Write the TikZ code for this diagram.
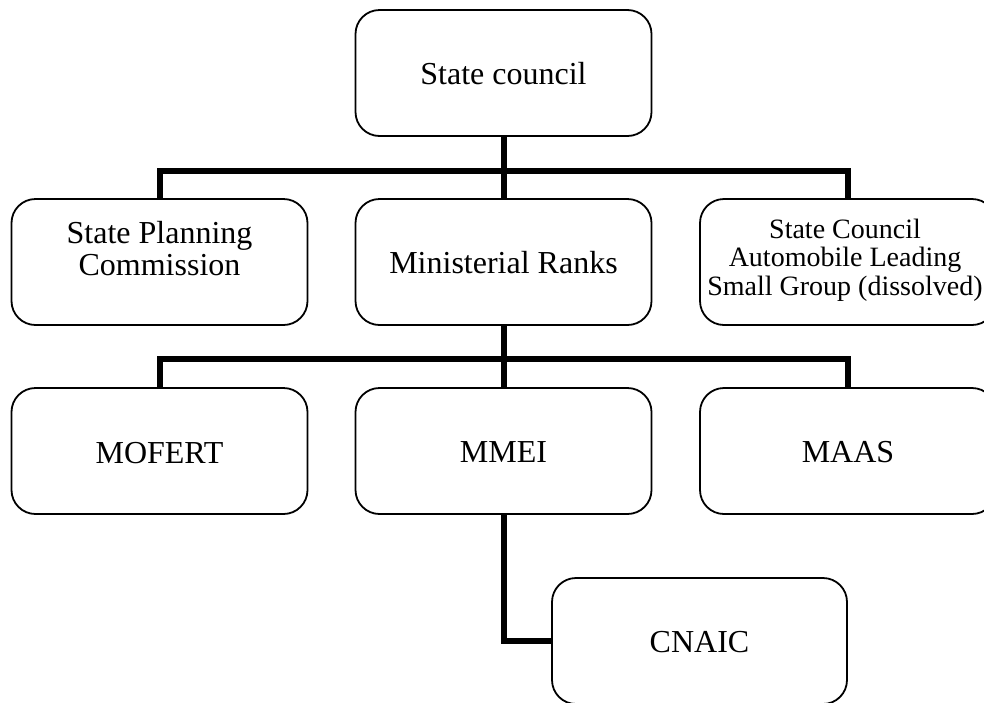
\documentclass[tikz,border=0pt]{standalone}
\usepackage{fontspec}
\setmainfont{Liberation Serif}
\begin{document}
\begin{tikzpicture}[x=1pt,y=-1pt,
  box/.style={draw=black,line width=1.8pt,rounded corners=24pt,minimum width=296pt,minimum height=126pt,inner sep=0pt,outer sep=0pt,fill=white},
  bigtxt/.style={anchor=base,align=center,inner sep=0pt,font=\fontsize{32}{32}\selectfont},
  smalltxt/.style={anchor=base,align=center,inner sep=0pt,font=\fontsize{28}{28.5}\selectfont},
  conn/.style={draw=black,line width=6pt}]
\useasboundingbox (0,0) rectangle (984,702);
\clip (0,0) rectangle (984,702);
% boxes
\node[box] (sc)   at (503.5,73)  {};
\node[box] (spc)  at (159.5,262) {};
\node[box] (mr)   at (503.5,262) {};
\node[box] (sca)  at (848,262)   {};
\node[box] (mof)  at (159.5,451) {};
\node[box] (mmei) at (503.5,451) {};
\node[box] (maas) at (848,451)   {};
\node[box,minimum width=295pt] (cnaic) at (699.5,641) {};
% texts
\node[bigtxt] (sct)   at (503.5,84)  {State council};
\node[bigtxt] (spct)  at (159.5,275) {State Planning\\Commission};
\node[bigtxt] (mrt)   at (503.5,273) {Ministerial Ranks};
\node[smalltxt] (scat) at (845,295)  {State Council\\Automobile Leading\\Small Group (dissolved)};
\node[bigtxt] (moft)  at (159.5,463) {MOFERT};
\node[bigtxt] (mmeit) at (503.5,462) {MMEI};
\node[bigtxt] (maast) at (848,462)   {MAAS};
\node[bigtxt] (cnaict) at (699.5,652) {CNAIC};
% connectors
\coordinate (b1) at (503.5,171);
\coordinate (b2) at (503.5,359);
\draw[conn] (sc.south) -- (b1) -- (mr.north);
\draw[conn] (spc.north) |- (b1) -| (sca.north);
\draw[conn] (mr.south) -- (b2) -- (mmei.north);
\draw[conn] (mof.north) |- (b2) -| (maas.north);
\draw[conn] (mmei.south) |- (cnaic.west);
\end{tikzpicture}
\end{document}
